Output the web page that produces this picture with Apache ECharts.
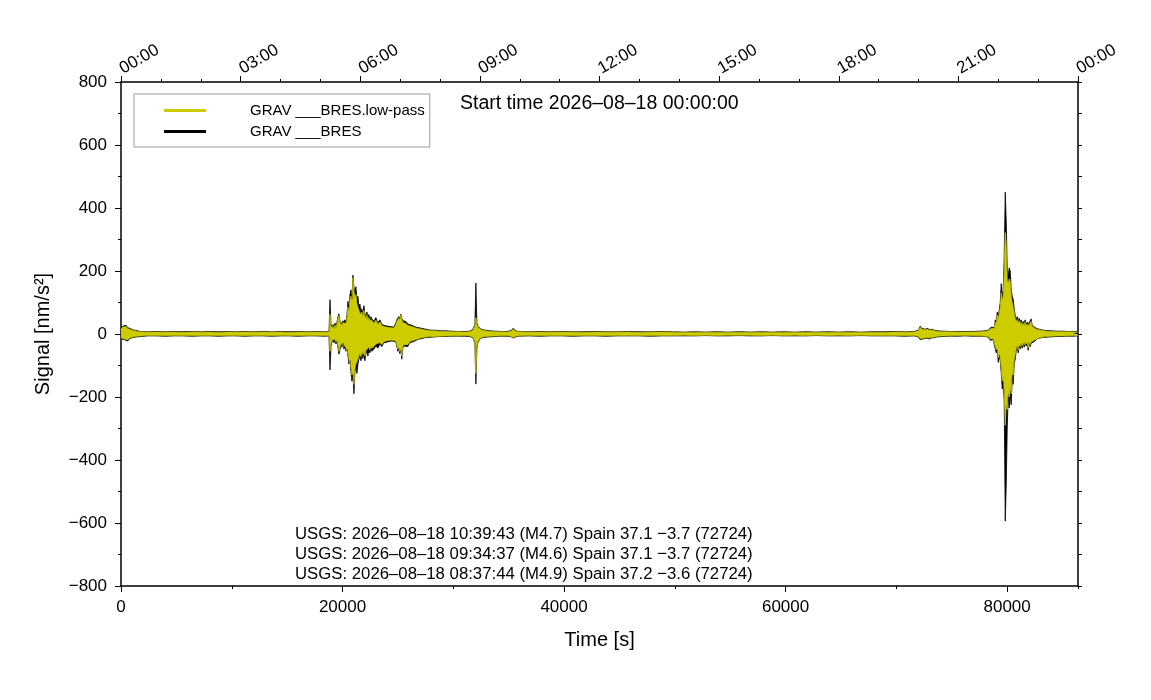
<!DOCTYPE html>
<html>
<head>
<meta charset="utf-8">
<title>GRAV BRES</title>
<script src="https://cdn.jsdelivr.net/npm/echarts@6/dist/echarts.min.js"></script>
<style>
    html, body {margin: 0; padding: 0; background: #fff;}
    #chart {width: 1151px; height: 700px;}
</style>
</head>
<body>
<div id="chart"></div>
<script>
// envelope of the trace (seconds since start time)
var times = [
    // start
    0, 150, 300, 450, 600, 800, 1000, 1250, 1500, 1800,
    // quiet
    2400, 3200, 4000, 4800, 5600, 6400, 7200, 8000, 8800, 9600, 10400,
    11200, 12000, 12800, 13600, 14400, 15200, 16000, 16800, 17600, 18400, 18780,
    // event 1
    18870, 18960, 19050, 19140, 19230, 19320, 19410, 19500, 19590, 19680,
    19770, 19860, 19950, 20040, 20130, 20220, 20310, 20400, 20490, 20580,
    20670, 20760, 20850, 20940, 21030, 21120, 21210, 21300, 21390, 21480,
    21570, 21660, 21750, 21840, 21930, 22020, 22110, 22200, 22290, 22380,
    22470, 22560, 22650,
    22830, 23010, 23190, 23370, 23550, 23730, 23910, 24090, 24270, 24450, 24630, 24810,
    24900, 24990, 25080, 25170, 25260, 25350, 25440, 25530, 25710, 25890,
    26070, 26250, 26430, 26610, 26880, 27150, 27420, 27690, 28000, 28400,
    28800, 29300, 29800, 30400, 31000, 31500,
    // event 2
    31770, 31860, 31950, 32040, 32130, 32220, 32310, 32400, 32600, 32900, 33300, 33800, 34300, 34800,
    35200, 35300, 35400, 35500, 35650, 35900,
    // quiet
    36800, 37800, 38800, 39800, 40800, 41800, 42800, 43800, 44800, 45800, 46800, 47800,
    48800, 49800, 50800, 51800, 52800, 53800, 54800, 55800, 56800, 57800, 58800, 59800,
    60800, 61800, 62800, 63800, 64800, 65800, 66800, 67800, 68800, 69800, 70800, 71600,
    72000, 72150, 72300, 72450, 72600, 72800, 73000, 73200, 73450, 73700, 74200, 74800,
    75500, 76200, 76900, 77500, 78000,
    // event 3
    78300, 78390, 78480, 78570, 78660, 78750, 78840, 78930, 79020, 79110,
    79200, 79290, 79380, 79470, 79560, 79650, 79740, 79830, 79920, 80010,
    80100, 80190, 80280, 80370, 80460, 80550, 80640, 80730, 80820, 80910,
    81000, 81090, 81180, 81270, 81360, 81450, 81540, 81630, 81720, 81810,
    81900, 81990, 82080, 82170, 82260,
    82350, 82530, 82710, 82890, 83070, 83300, 83600, 84000, 84500, 85000, 85500, 86000, 86400
];
var rawHi = [
    18, 25, 22, 28, 20, 18, 14, 12, 10, 8,
    7, 8, 7, 8, 7, 8, 7, 8, 7, 8, 7,
    8, 7, 8, 7, 8, 7, 8, 7, 8, 7, 8,
    109, 30, 22, 30, 18, 35, 22, 28, 55, 64,
    40, 45, 32, 42, 35, 45, 38, 60, 104, 80,
    125, 140, 110, 187, 150, 130, 150, 110, 120, 85,
    95, 70, 80, 60, 90, 65, 55, 70, 50, 62,
    45, 55, 48,
    40, 52, 35, 45, 30, 35, 26, 32, 24, 30, 22, 35,
    45, 40, 55, 48, 63, 50, 42, 38, 40, 32,
    35, 28, 25, 22, 20, 18, 16, 14, 12, 12,
    10, 10, 9, 8, 8, 9,
    15, 22, 30, 162, 35, 25, 20, 18, 14, 12, 10, 9, 8, 8,
    10, 14, 18, 12, 10, 8,
    7, 8, 7, 8, 7, 7, 8, 7, 7, 8, 7, 7,
    8, 7, 6, 7, 6, 7, 6, 7, 6, 7, 6, 7,
    6, 7, 6, 7, 6, 7, 6, 7, 7, 8, 7, 8,
    12, 25, 18, 22, 15, 18, 14, 15, 12, 10, 9, 8,
    8, 8, 8, 9, 10,
    12, 18, 15, 22, 16, 28, 20, 45, 35, 70,
    55, 60, 100, 160, 120, 140, 250, 450, 360, 210,
    185, 210, 200, 140, 120, 110, 80, 60, 45, 55,
    40, 50, 35, 45, 30, 40, 32, 45, 28, 38,
    30, 35, 25, 48, 28,
    30, 20, 18, 15, 14, 12, 11, 10, 9, 9, 8, 8, 8
];
var rawLo = [
    -15, -20, -18, -20, -22, -15, -12, -10, -9, -8,
    -6, -6, -7, -6, -6, -7, -6, -6, -7, -6, -6,
    -7, -6, -6, -7, -6, -6, -7, -6, -6, -7, -6,
    -114, -40, -25, -18, -28, -20, -32, -22, -45, -64,
    -50, -35, -42, -30, -48, -38, -55, -48, -70, -95,
    -85, -120, -150, -130, -190, -120, -105, -125, -95, -80,
    -70, -85, -65, -78, -60, -85, -62, -55, -70, -50,
    -60, -45, -55,
    -48, -38, -45, -32, -40, -28, -34, -25, -30, -22, -28, -25,
    -40, -55, -45, -62, -50, -80, -45, -38, -32, -40,
    -28, -32, -24, -20, -16, -15, -12, -11, -10, -9,
    -8, -8, -7, -7, -7, -8,
    -12, -20, -28, -159, -45, -28, -22, -16, -12, -10, -9, -8, -7, -7,
    -8, -10, -13, -14, -9, -7,
    -6, -7, -6, -6, -7, -6, -6, -7, -6, -6, -6, -7,
    -6, -6, -6, -6, -5, -6, -6, -5, -6, -6, -5, -6,
    -6, -6, -5, -6, -6, -6, -5, -6, -6, -6, -7, -6,
    -10, -18, -22, -15, -20, -14, -16, -12, -12, -9, -8, -7,
    -7, -6, -7, -7, -8,
    -10, -12, -20, -14, -25, -18, -35, -40, -60, -50,
    -90, -70, -85, -125, -175, -150, -220, -594, -482, -300,
    -200, -235, -190, -225, -140, -160, -95, -80, -55, -40,
    -60, -38, -48, -32, -45, -30, -42, -28, -38, -30,
    -52, -28, -40, -30, -35,
    -25, -22, -15, -16, -12, -11, -10, -9, -8, -8, -7, -7, -6
];
// low-pass envelope
var lowHi = [
    14, 22, 19, 24, 17, 15, 12, 10, 8, 7,
    6, 6, 6, 6, 5, 6, 6, 6, 5, 6, 6,
    6, 6, 6, 6, 6, 5, 6, 6, 6, 6, 6,
    62, 25, 18, 25, 15, 28, 18, 22, 48, 58,
    35, 38, 27, 36, 30, 40, 33, 52, 85, 70,
    110, 120, 100, 178, 135, 115, 125, 95, 100, 75,
    80, 60, 70, 52, 75, 56, 48, 60, 42, 52,
    38, 46, 40,
    34, 44, 30, 38, 26, 30, 22, 27, 20, 25, 19, 30,
    40, 35, 50, 42, 60, 45, 36, 32, 34, 27,
    30, 24, 21, 19, 17, 15, 13, 12, 10, 10,
    8, 8, 7, 7, 6, 7,
    12, 18, 25, 52, 30, 21, 17, 15, 12, 10, 8, 7, 7, 6,
    8, 12, 15, 10, 8, 7,
    6, 6, 6, 6, 6, 5, 6, 6, 6, 6, 5, 6,
    6, 6, 5, 5, 5, 5, 5, 5, 5, 5, 5, 5,
    5, 5, 5, 5, 5, 5, 5, 5, 5, 6, 6, 6,
    10, 22, 15, 18, 13, 15, 12, 13, 10, 8, 7, 7,
    6, 6, 6, 7, 8,
    10, 15, 12, 18, 13, 24, 17, 38, 30, 60,
    48, 52, 85, 130, 105, 120, 200, 322, 280, 170,
    160, 175, 165, 120, 100, 95, 68, 50, 38, 46,
    34, 42, 30, 38, 26, 34, 27, 38, 24, 32,
    25, 30, 21, 40, 24,
    25, 17, 15, 13, 12, 10, 9, 8, 7, 7, 7, 6, 6
];
var lowLo = [
    -12, -17, -16, -18, -18, -13, -10, -8, -7, -6,
    -5, -5, -5, -5, -5, -5, -5, -5, -5, -5, -5,
    -5, -5, -5, -5, -5, -5, -5, -5, -5, -5, -5,
    -55, -30, -20, -15, -22, -17, -26, -18, -40, -55,
    -42, -30, -36, -26, -40, -33, -45, -42, -62, -80,
    -75, -105, -130, -118, -160, -110, -95, -100, -80, -70,
    -60, -72, -55, -65, -52, -70, -52, -46, -58, -42,
    -50, -38, -46,
    -40, -32, -38, -27, -34, -24, -28, -21, -25, -19, -24, -22,
    -35, -48, -40, -55, -45, -70, -40, -33, -28, -34,
    -24, -27, -20, -17, -14, -12, -10, -9, -8, -8,
    -7, -6, -6, -6, -5, -6,
    -10, -16, -24, -125, -38, -24, -18, -14, -10, -8, -7, -6, -6, -5,
    -7, -9, -11, -12, -7, -6,
    -5, -5, -5, -5, -5, -5, -5, -5, -5, -5, -5, -5,
    -5, -5, -4, -5, -4, -5, -4, -4, -4, -5, -4, -5,
    -4, -5, -4, -5, -4, -5, -4, -5, -5, -5, -5, -5,
    -8, -15, -18, -13, -17, -12, -13, -10, -10, -7, -6, -6,
    -5, -5, -5, -6, -7,
    -8, -10, -16, -12, -20, -15, -28, -33, -50, -42,
    -75, -60, -72, -110, -150, -130, -180, -290, -220, -240,
    -180, -200, -165, -190, -120, -130, -80, -65, -46, -34,
    -50, -32, -40, -27, -38, -25, -35, -24, -32, -25,
    -44, -24, -34, -25, -30,
    -21, -18, -13, -13, -10, -9, -8, -7, -6, -6, -6, -5, -5
];
var eventLines = [
    'USGS: 2026\u201308\u201318 10:39:43 (M4.7) Spain 37.1 \u22123.7 (72724)',
    'USGS: 2026\u201308\u201318 09:34:37 (M4.6) Spain 37.1 \u22123.7 (72724)',
    'USGS: 2026\u201308\u201318 08:37:44 (M4.9) Spain 37.2 \u22123.6 (72724)'
];
var startText = 'Start time 2026\u201308\u201318 00:00:00';
var rawName = 'GRAV ___BRES';
var lowName = 'GRAV ___BRES.low-pass';

var FONT = 'Liberation Sans';
var YELLOW = '#cccc00';

function pairs(ys) {
    var out = [];
    var n = Math.min(times.length, ys.length);
    for (var i = 0; i < n; i++) {
        out.push([times[i], ys[i]]);
    }
    return out;
}
function hourLabel(v) {
    var h = Math.round(v / 3600) % 24;
    return (h < 10 ? '0' : '') + h + ':00';
}
function plainLabel(v) {
    return String(v).replace('-', '\u2212');
}
function traceSeries(name, color, ys) {
    return {
        name: name,
        type: 'line',
        xAxisIndex: 0,
        yAxisIndex: 0,
        data: pairs(ys),
        symbol: 'none',
        showSymbol: false,
        silent: true,
        itemStyle: {color: color},
        lineStyle: {color: color, width: 0.8},
        areaStyle: {color: color, opacity: 1, origin: 0}
    };
}

var frame = {show: true, onZero: false, lineStyle: {color: '#000', width: 1.5}};
var tickStyle = {color: '#000', width: 1};

var chart = echarts.init(document.getElementById('chart'), null, {renderer: 'canvas'});
chart.setOption({
    animation: false,
    backgroundColor: '#fff',
    textStyle: {fontFamily: FONT},
    grid: {left: 121, right: 73, top: 82, bottom: 114, containLabel: false},
    legend: {
        data: [lowName, rawName],
        orient: 'vertical',
        left: 134,
        top: 94,
        icon: 'rect',
        itemWidth: 42,
        itemHeight: 3,
        itemGap: 6,
        padding: [9, 5, 8, 30],
        borderColor: '#999',
        borderWidth: 1,
        backgroundColor: '#fff',
        selectedMode: false,
        textStyle: {color: '#000', fontSize: 15, fontFamily: FONT, padding: [0, 0, 0, 39]}
    },
    xAxis: [
        {   // time in seconds
            type: 'value', position: 'bottom', min: 0, max: 86400, interval: 20000,
            axisLine: frame,
            axisTick: {length: 6, inside: false, lineStyle: tickStyle},
            axisLabel: {show: true, margin: 13, showMaxLabel: false, formatter: plainLabel,
                color: '#000', fontSize: 17, fontFamily: FONT},
            splitLine: {show: false},
            name: 'Time [s]', nameLocation: 'middle', nameGap: 44,
            nameTextStyle: {color: '#000', fontSize: 20, fontFamily: FONT}
        },
        {
            type: 'value', position: 'bottom', min: 0, max: 86400, interval: 10000,
            axisLine: {show: false, onZero: false},
            axisTick: {length: 3, inside: false, lineStyle: tickStyle},
            axisLabel: {show: false},
            splitLine: {show: false}
        },
        {   // clock time
            type: 'value', position: 'top', min: 0, max: 86400, interval: 10800,
            axisLine: frame,
            axisTick: {length: 6, inside: false, lineStyle: tickStyle},
            minorTick: {show: true, splitNumber: 3, length: 3, lineStyle: tickStyle},
            axisLabel: {show: true, rotate: -30, margin: 12, formatter: hourLabel,
                color: '#000', fontSize: 17, fontFamily: FONT},
            splitLine: {show: false},
            minorSplitLine: {show: false}
        }
    ],
    yAxis: [
        {
            type: 'value', position: 'left', min: -800, max: 800, interval: 200,
            axisLine: frame,
            axisTick: {length: 6, inside: false, lineStyle: tickStyle},
            minorTick: {show: true, splitNumber: 2, length: 3, lineStyle: tickStyle},
            axisLabel: {show: true, margin: 14, formatter: plainLabel,
                color: '#000', fontSize: 17, fontFamily: FONT},
            splitLine: {show: false},
            minorSplitLine: {show: false},
            name: 'Signal [nm/s\u00b2]', nameLocation: 'middle', nameGap: 68, nameRotate: 90,
            nameTextStyle: {color: '#000', fontSize: 20, fontFamily: FONT}
        },
        {
            type: 'value', position: 'right', min: -800, max: 800, interval: 100,
            axisLine: frame,
            axisTick: {length: 4, inside: false, lineStyle: tickStyle},
            axisLabel: {show: false},
            splitLine: {show: false}
        }
    ],
    series: [
        traceSeries(rawName, '#000', rawHi),
        traceSeries(rawName, '#000', rawLo),
        traceSeries(lowName, YELLOW, lowHi),
        traceSeries(lowName, YELLOW, lowLo)
    ],
    graphic: [
        {type: 'text', left: 460, top: 94, silent: true,
            style: {text: startText, fill: '#000', fontSize: 19.5, fontFamily: FONT}},
        {type: 'text', left: 295, top: 526, silent: true,
            style: {text: eventLines[0], fill: '#000', fontSize: 16.75, fontFamily: FONT}},
        {type: 'text', left: 295, top: 546, silent: true,
            style: {text: eventLines[1], fill: '#000', fontSize: 16.75, fontFamily: FONT}},
        {type: 'text', left: 295, top: 566, silent: true,
            style: {text: eventLines[2], fill: '#000', fontSize: 16.75, fontFamily: FONT}}
    ]
});
</script>
</body>
</html>
